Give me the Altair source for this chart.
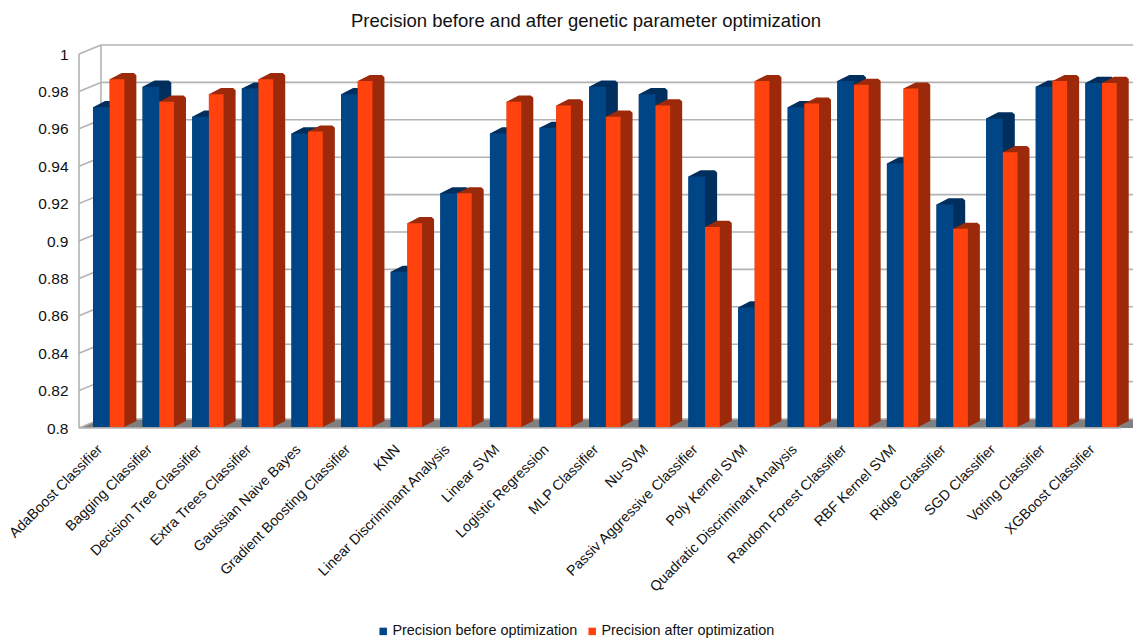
import altair as alt
import pandas as pd

categories = [
    "AdaBoost Classifier", "Bagging Classifier", "Decision Tree Classifier",
    "Extra Trees Classifier", "Gaussian Naive Bayes", "Gradient Boosting Classifier",
    "KNN", "Linear Discriminant Analysis", "Linear SVM", "Logistic Regression",
    "MLP Classifier", "Nu-SVM", "Passiv Aggressive Classifier", "Poly Kernel SVM",
    "Quadratic Discriminant Analysis", "Random Forest Classifier", "RBF Kernel SVM",
    "Ridge Classifier", "SGD Classifier", "Voting Classifier", "XGBoost Classifier",
]
before = [0.971, 0.982, 0.966, 0.981, 0.957, 0.978, 0.883, 0.925, 0.957, 0.960, 0.982,
          0.978, 0.934, 0.864, 0.971, 0.985, 0.941, 0.919, 0.965, 0.982, 0.984]
after = [0.986, 0.974, 0.978, 0.986, 0.958, 0.985, 0.909, 0.925, 0.974, 0.972, 0.966,
         0.972, 0.907, 0.985, 0.973, 0.983, 0.981, 0.906, 0.947, 0.985, 0.984]
y_ticks = [0.8, 0.82, 0.84, 0.86, 0.88, 0.9, 0.92, 0.94, 0.96, 0.98, 1.0]

BEFORE = "Precision before optimization"
AFTER = "Precision after optimization"
FONT = "Liberation Sans"
GRID = "#b3b3b3"
Y_MIN, Y_MAX = 0.8, 1.0
N = len(categories)

# Oblique projection: depth moves a point right and up, in data units.
WALL_DX, WALL_DY = 0.443, 0.0048
BAR_DX, BAR_DY = 0.242, 0.0033
INSET_DY = 0.0005

SLOTS = {BEFORE: (0.282, 0.618), AFTER: (0.618, 0.914)}
VALUES = {BEFORE: before, AFTER: after}
SHADES = {BEFORE: "#002f5d", AFTER: "#9c2a0a"}
FRONTS = {BEFORE: "#004586", AFTER: "#ff420e"}

fronts, bodies = [], []
for series, vals in VALUES.items():
    left, right = SLOTS[series]
    for i, (name, v) in enumerate(zip(categories, vals)):
        xl, xr = i + left, i + right
        base = Y_MIN + INSET_DY
        top = v + INSET_DY
        fronts.append(dict(series=series, name=name, x=xl, x2=xr, top=top, base=base))
        # top and side faces as one outline behind the front face
        back = top + BAR_DY
        for px, up, low in [
            (xl, top, base),
            (xl + BAR_DX, back, base),
            (xr, back, base),
            (xr + BAR_DX - 0.05, back, base + BAR_DY * 0.79),
            (xr + BAR_DX, back - 0.0012, base + BAR_DY),
        ]:
            bodies.append(dict(series=series, name=name, px=px, up=up, low=low))
fronts = pd.DataFrame(fronts)
bodies = pd.DataFrame(bodies)

wall_rows = []
for t in y_ticks:
    wall_rows.append(dict(x=WALL_DX, x2=N + WALL_DX, y=t + WALL_DY, y2=t + WALL_DY))
    wall_rows.append(dict(x=0, x2=WALL_DX, y=t, y2=t + WALL_DY))
wall_rows += [
    dict(x=0, x2=0, y=Y_MIN, y2=Y_MAX),
    dict(x=WALL_DX, x2=WALL_DX, y=Y_MIN + WALL_DY, y2=Y_MAX + WALL_DY),
    dict(x=0, x2=N, y=Y_MIN, y2=Y_MIN),
]
walls = pd.DataFrame(wall_rows)

floor = pd.DataFrame({
    "px": [0, WALL_DX, N, N + WALL_DX],
    "up": [Y_MIN, Y_MIN + WALL_DY, Y_MIN + WALL_DY, Y_MIN + WALL_DY],
    "low": [Y_MIN, Y_MIN, Y_MIN, Y_MIN],
})

x_scale = alt.Scale(domain=[0, N], nice=False, zero=False)
y_scale = alt.Scale(domain=[Y_MIN, Y_MAX], nice=False, zero=False)
names_js = "[" + ",".join(f"'{c}'" for c in categories) + "]"

x_axis = alt.Axis(
    values=[i + 0.5 for i in range(N)],
    labelExpr=f"{names_js}[floor(datum.value)]",
    labelAngle=315, labelAlign="right", labelBaseline="middle",
    labelFont=FONT, labelFontSize=14.3, labelColor="#111111",
    labelPadding=19, labelOffset=-4, labelOverlap=False, labelBound=False, labelFlush=False,
    labelLimit=400, domain=False, ticks=False, grid=False, title=None,
)
y_axis = alt.Axis(
    values=y_ticks, format=".2~f",
    labelFont=FONT, labelFontSize=15.5, labelColor="#111111", labelPadding=11,
    labelOverlap=False, labelBound=False, labelFlush=False,
    domain=False, ticks=False, grid=False, title=None,
)

floor_layer = alt.Chart(floor).mark_area(color="#808080").encode(
    x=alt.X("px:Q", scale=x_scale, axis=x_axis),
    y=alt.Y("up:Q", scale=y_scale, axis=y_axis),
    y2="low:Q",
)
wall_layer = alt.Chart(walls).mark_rule(color=GRID, strokeWidth=1.6).encode(
    x=alt.X("x:Q", scale=x_scale, axis=x_axis),
    x2="x2:Q",
    y=alt.Y("y:Q", scale=y_scale, axis=y_axis),
    y2="y2:Q",
)


def body_layer(series):
    return alt.Chart(bodies[bodies.series == series]).mark_area(color=SHADES[series]).encode(
        x=alt.X("px:Q", scale=x_scale, axis=x_axis),
        y=alt.Y("up:Q", scale=y_scale, axis=y_axis),
        y2="low:Q",
        detail="name:N",
    )


front_layer = alt.Chart(fronts).mark_rect().encode(
    x=alt.X("x:Q", scale=x_scale, axis=x_axis),
    x2="x2:Q",
    y=alt.Y("top:Q", scale=y_scale, axis=y_axis),
    y2="base:Q",
    color=alt.Color(
        "series:N",
        scale=alt.Scale(domain=[BEFORE, AFTER], range=[FRONTS[BEFORE], FRONTS[AFTER]]),
        legend=alt.Legend(
            orient="none", direction="horizontal", legendX=297, legendY=570,
            title=None, symbolType="square", symbolSize=56, symbolStrokeWidth=0,
            labelFont=FONT, labelFontSize=14.4, labelColor="#111111",
            labelOffset=2, columnPadding=7, labelLimit=300,
        ),
    ),
)

chart = alt.layer(
    floor_layer, wall_layer, body_layer(BEFORE), body_layer(AFTER), front_layer
).properties(
    width=1042,
    height=374,
    padding={"left": 79, "top": 54, "right": 12, "bottom": 210},
    autosize=alt.AutoSizeParams(type="none"),
    title=alt.TitleParams(
        "Precision before and after genetic parameter optimization",
        font=FONT, fontSize=18.5, fontWeight="normal", color="#111111",
        anchor="middle", dx=-14, offset=14,
    ),
).configure_view(stroke=None)

chart.save("out.html", embed_options={"renderer": "svg", "actions": False})
